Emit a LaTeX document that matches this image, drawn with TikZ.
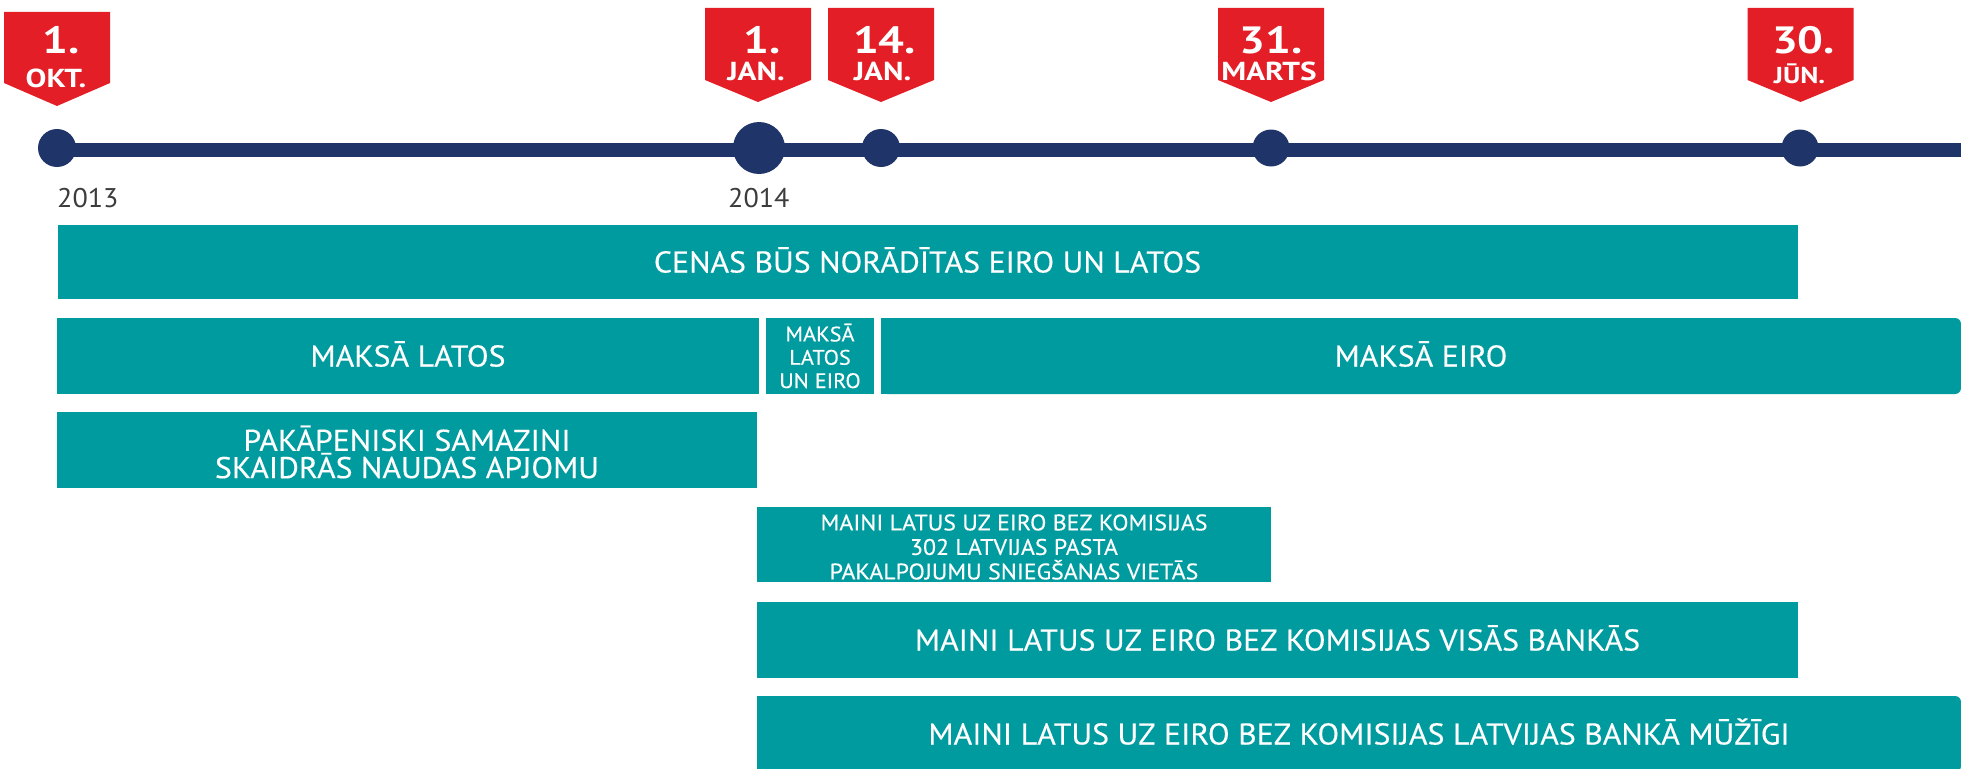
\documentclass[tikz,border=0pt]{standalone}
\usepackage{fontspec}
\setmainfont{PT Sans}[FakeStretch=1.06, UprightFeatures={FakeBold=0.3}]
\newfontfamily\tagfont{PT Sans}[FakeStretch=1.2]
\newfontfamily\yearfont{PT Sans}[FakeStretch=1.04]
\definecolor{tealbar}{HTML}{009B9F}
\definecolor{navy}{HTML}{1F3468}
\definecolor{tagred}{HTML}{E31E26}
\definecolor{yeargray}{HTML}{3C3C3C}
\newcommand\redtag[1]{\fill[tagred] (#1-53,8) -- (#1+53,8) -- (#1+53,80) -- (#1,102) -- (#1-53,80) -- cycle;}
\begin{document}
\begin{tikzpicture}[x=1pt,y=-1pt,
  bar/.style={fill=tealbar, text=white, inner sep=0pt, align=center, font=\fontsize{30}{27.3}\selectfont},
  oneline/.style={text height=21pt, text depth=0pt},
  dot/.style={circle, fill=navy, inner sep=0pt},
  daynum/.style={text=white, font=\tagfont\bfseries\fontsize{38}{38}\selectfont, inner sep=0pt, anchor=base},
  month/.style={text=white, font=\tagfont\bfseries\fontsize{26}{26}\selectfont, inner sep=0pt, anchor=base},
  year/.style={text=yeargray, font=\yearfont\fontsize{27}{27}\selectfont, inner sep=0pt, anchor=base west},
]
\useasboundingbox (0,0) rectangle (1961,768);
\fill[white] (0,0) rectangle (1961,768);

% timeline
\coordinate (lstart) at (57,150);
\coordinate (lend) at (1961,150);
\draw[navy, line width=14.5pt] (lstart) -- (lend);
\node[dot, minimum size=38pt] (d1) at (57,148) {};
\node[dot, minimum size=52pt] (d2) at (759,148) {};
\node[dot, minimum size=38pt] (d3) at (881,148) {};
\node[dot, minimum size=37pt] (d4) at (1271,148) {};
\node[dot, minimum size=37pt] (d5) at (1800,148) {};

% tags
\fill[tagred] (4,12) -- (110,12) -- (110,83) -- (57,106) -- (4,83) -- cycle;
\redtag{758}
\redtag{881}
\redtag{1271}
\redtag{1800.5}

\node[daynum] (t1a) at (61,54) {1.};
\node[month] (t1b) at (56,87.5) {OKT.};
\node[daynum] (t2a) at (762,53) {1.};
\node[month] (t2b) at (756,80) {JAN.};
\node[daynum] (t3a) at (884.5,53) {14.};
\node[month] (t3b) at (882.5,80) {JAN.};
\node[daynum] (t4a) at (1271,54) {31.};
\node[month] (t4b) at (1269,80) {MARTS};
\node[daynum] (t5a) at (1803.5,54) {30.};
\node[month, font=\tagfont\bfseries\fontsize{23}{23}\selectfont] (t5b) at (1799.5,83) {JŪN.};

% years
\node[year] (y1) at (57,207) {2013};
\node[year] (y2) at (728,207) {2014};

% bars
\node[bar, oneline, minimum width=1740pt, minimum height=74pt] (cenas) at (927.5,262) {CENAS BŪS NORĀDĪTAS EIRO UN LATOS};
\node[bar, oneline, minimum width=702pt, minimum height=76pt] (latos) at (408,356) {MAKSĀ LATOS};
\node[bar, minimum width=108pt, minimum height=76pt, font=\fontsize{21}{23.3}\selectfont] (abi) at (820,356) {MAKSĀ\\LATOS\\UN EIRO};
\fill[tealbar] (881,318) rectangle (920,394);
\node[bar, oneline, rounded corners=6pt, minimum width=1080pt, minimum height=76pt] (eiro) at (1421,356) {MAKSĀ EIRO};
\fill[tealbar] (57,412) rectangle (757,488);
\node[bar, fill=none, inner sep=0pt] (skaidra) at (407,452) {PAKĀPENISKI SAMAZINI\\SKAIDRĀS NAUDAS APJOMU};
\fill[tealbar] (757,507) rectangle (1271,582);
\node[bar, fill=none, font=\fontsize{22.5}{24.5}\selectfont] (pasts) at (1014,547) {MAINI LATUS UZ EIRO BEZ KOMISIJAS\\302 LATVIJAS PASTA\\PAKALPOJUMU SNIEGŠANAS VIETĀS};
\node[bar, oneline, minimum width=1041pt, minimum height=76pt] (bankas) at (1277.5,640) {MAINI LATUS UZ EIRO BEZ KOMISIJAS VISĀS BANKĀS};
\fill[tealbar] (757,696) rectangle (800,772);
\node[bar, oneline, rounded corners=6pt, minimum width=1204pt, minimum height=76pt] (lb) at (1359,734) {MAINI LATUS UZ EIRO BEZ KOMISIJAS LATVIJAS BANKĀ MŪŽĪGI};
\end{tikzpicture}
\end{document}
